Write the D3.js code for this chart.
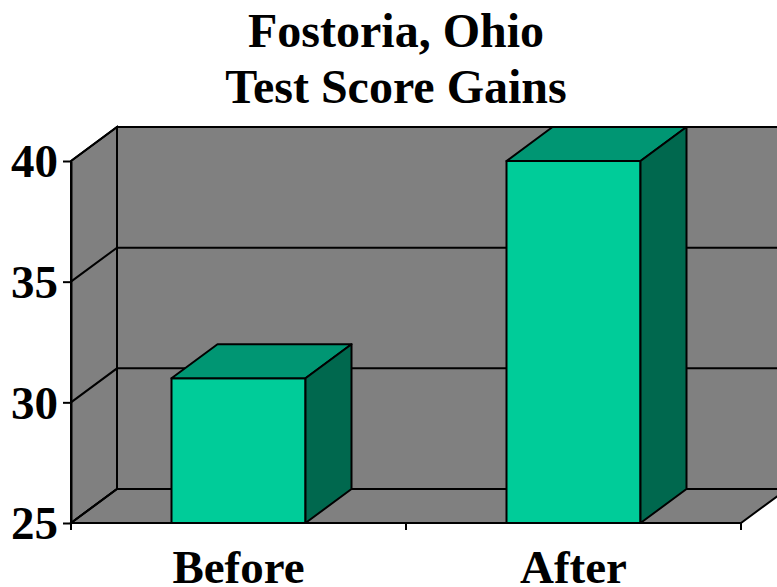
<!DOCTYPE html>
<html>
<head>
<meta charset="utf-8">
<script src="https://cdn.jsdelivr.net/npm/d3@7"></script>
<style>
	body { margin: 0; background: #fff; }
	svg { display: block; }
	text { font-family: "Liberation Serif", "Times New Roman", serif; font-weight: bold; fill: #000; }
</style>
</head>
<body>
<div id="chart"></div>
<script>
var titleLines = ['Fostoria, Ohio', 'Test Score Gains'];
var categories = ['Before', 'After'];
var scores = [31, 40];
var yTicks = [25, 30, 35, 40];

var width = 777, height = 587;
// depth of the 3d box (back wall offset)
var dx = 46, dy = -34;

var svg = d3.select('#chart').append('svg')
	.attr('width', width)
	.attr('height', height);

var x = d3.scaleBand()
	.domain(categories)
	.range([71, 741])
	.paddingInner(0.6)
	.paddingOuter(0.3);

var y = d3.scaleLinear()
	.domain([25, 40])
	.range([523, 161]);

var x0 = x.range()[0], x1 = x.range()[1];
var yb = y(25), yt = y(40);

function pts(arr) {
	return arr.map(function (p) { return p.join(','); }).join(' ');
}

var walls = svg.append('g').attr('stroke', '#000').attr('stroke-width', 2).attr('fill', '#808080');

// back wall
walls.append('rect')
	.attr('x', x0 + dx).attr('y', yt + dy)
	.attr('width', x1 - x0 + 10).attr('height', yb - yt);

// side wall
walls.append('polygon')
	.attr('points', pts([[x0, yt], [x0 + dx, yt + dy], [x0 + dx, yb + dy], [x0, yb]]));

// floor
walls.append('polygon')
	.attr('points', pts([[x0, yb], [x0 + dx, yb + dy], [x1 + dx, yb + dy], [x1, yb]]));

// gridlines on back + side wall
var grid = svg.append('g').attr('stroke', '#000').attr('stroke-width', 2).attr('fill', 'none');
grid.selectAll('.g').data(yTicks).enter().append('polyline')
	.attr('points', function (d) {
		return pts([[x0, y(d)], [x0 + dx, y(d) + dy], [x1 + dx + 10, y(d) + dy]]);
	});

// bars
var bars = svg.append('g').attr('stroke', '#000').attr('stroke-width', 2).attr('stroke-linejoin', 'round');
var bw = x.bandwidth();

categories.forEach(function (c, i) {
	var bx = x(c), top = y(scores[i]);
	bars.append('rect')
		.attr('x', bx).attr('y', top)
		.attr('width', bw).attr('height', yb - top)
		.attr('fill', '#00cc99');
	bars.append('polygon')
		.attr('points', pts([[bx, top], [bx + dx, top + dy], [bx + bw + dx, top + dy], [bx + bw, top]]))
		.attr('fill', '#009673');
	bars.append('polygon')
		.attr('points', pts([[bx + bw, top], [bx + bw + dx, top + dy], [bx + bw + dx, yb + dy], [bx + bw, yb]]))
		.attr('fill', '#00684e');
});

// y axis
var yAxis = svg.append('g')
	.attr('transform', 'translate(' + x0 + ',0)')
	.call(d3.axisLeft(y).tickValues(yTicks).tickSize(8).tickPadding(5).tickSizeOuter(0));
yAxis.select('.domain').attr('stroke-width', 2);
yAxis.selectAll('.tick line').attr('stroke-width', 2);
yAxis.selectAll('.tick text')
	.attr('font-size', 47)
	.attr('dy', '0.34em')
	.style('font-family', '"Liberation Serif", "Times New Roman", serif')
	.style('font-weight', 'bold');

// x axis line and separators
var xa = svg.append('g').attr('stroke', '#000').attr('stroke-width', 2);
xa.append('line').attr('x1', x0).attr('x2', x1).attr('y1', yb).attr('y2', yb);
var sep = [x0, (x0 + x1) / 2, x1];
xa.selectAll('.t').data(sep).enter().append('line')
	.attr('x1', function (d) { return d; }).attr('x2', function (d) { return d; })
	.attr('y1', yb).attr('y2', yb + 7);

svg.append('g').selectAll('text').data(categories).enter().append('text')
	.attr('x', function (d) { return x(d) + bw / 2; })
	.attr('y', 583)
	.attr('text-anchor', 'middle')
	.attr('font-size', 47)
	.text(function (d) { return d; });

// title
svg.append('g').selectAll('text').data(titleLines).enter().append('text')
	.attr('x', 396)
	.attr('y', function (d, i) { return 47 + i * 56; })
	.attr('text-anchor', 'middle')
	.attr('font-size', 48)
	.text(function (d) { return d; });
</script>
</body>
</html>
